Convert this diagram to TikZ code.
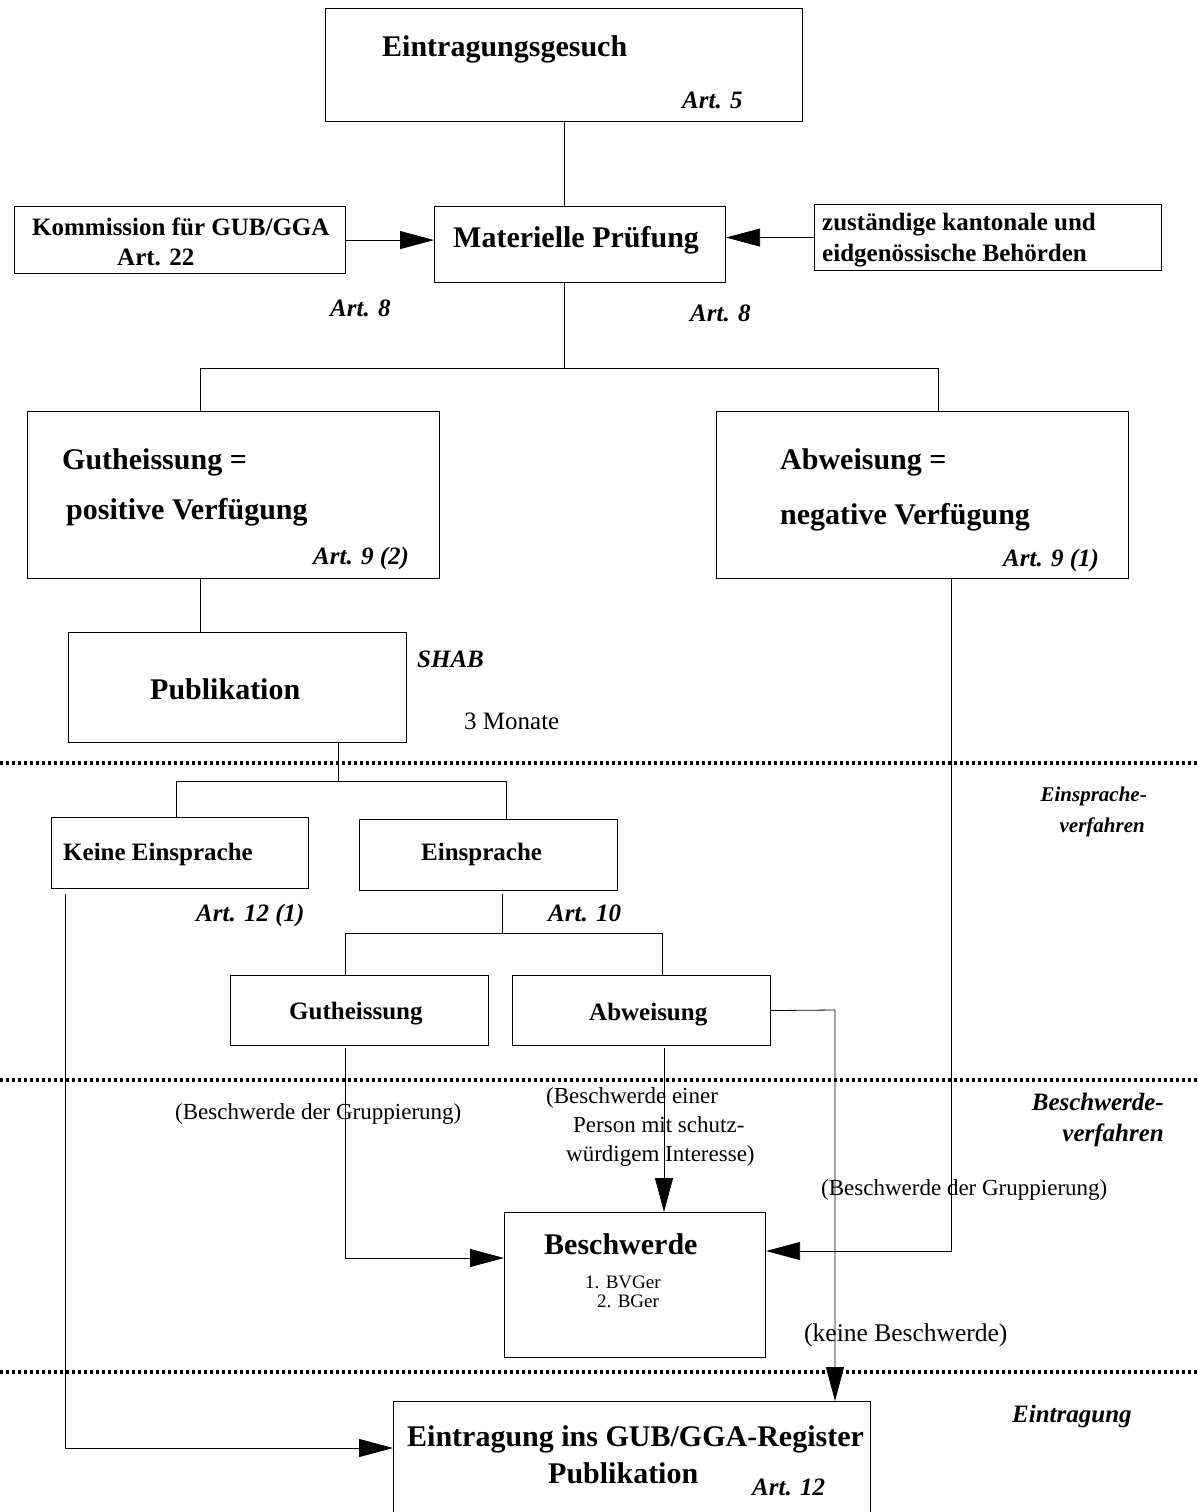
\documentclass[tikz,border=0pt]{standalone}
\usepackage{fontspec}
\setmainfont{Liberation Serif}
\usetikzlibrary{arrows.meta}
\begin{document}
\begin{tikzpicture}[x=1pt,y=-1pt,
  box/.style={draw, line width=1.1pt, inner sep=0pt, anchor=north west},
  big/.style={font=\fontsize{30}{36}\selectfont\bfseries, inner sep=0pt, anchor=base west},
  sb/.style={font=\fontsize{25}{30}\selectfont\bfseries, inner sep=0pt, anchor=base west},
  art/.style={font=\fontsize{25}{30}\selectfont\bfseries\itshape, inner sep=0pt, anchor=base west},
  artsm/.style={font=\fontsize{21}{25}\selectfont\bfseries\itshape, inner sep=0pt, anchor=base east},
  lab/.style={font=\fontsize{23}{28}\selectfont, inner sep=0pt, anchor=base west},
  tiny/.style={font=\fontsize{19}{22}\selectfont, inner sep=0pt, anchor=base west},
  con/.style={line width=0.8pt},
  arr/.style={con, -{Triangle[length=34pt,width=18pt]}},
  sep/.style={line width=4pt, dash pattern=on 3pt off 3pt}]
\clip (0,0) rectangle (1198,1512);
\fill[white] (0,0) rectangle (1198,1512);

% separators
\coordinate (d1l) at (0,763);  \coordinate (d1r) at (1198,763);
\coordinate (d2l) at (0,1080); \coordinate (d2r) at (1198,1080);
\coordinate (d3l) at (0,1372); \coordinate (d3r) at (1198,1372);
\draw[sep] (d1l) -- (d1r);
\draw[sep] (d2l) -- (d2r);
\draw[sep] (d3l) -- (d3r);

% boxes
\node[box, minimum width=477pt, minimum height=113pt] (gesuch) at (325,8) {};
\node[box, minimum width=291pt, minimum height=76pt] (mat) at (434,206) {};
\node[box, minimum width=331pt, minimum height=67pt] (kom) at (14,206) {};
\node[box, minimum width=347pt, minimum height=66pt] (beh) at (814,204) {};
\node[box, minimum width=412pt, minimum height=167pt] (gut) at (27,411) {};
\node[box, minimum width=412pt, minimum height=167pt] (abw) at (716,411) {};
\node[box, minimum width=338pt, minimum height=110pt] (pub) at (68,632) {};
\node[box, minimum width=257pt, minimum height=71pt] (keine) at (51,817) {};
\node[box, minimum width=258pt, minimum height=71pt] (einspr) at (359,819) {};
\node[box, minimum width=258pt, minimum height=70pt] (gut2) at (230,975) {};
\node[box, minimum width=258pt, minimum height=70pt] (abw2) at (512,975) {};
\node[box, minimum width=261pt, minimum height=145pt] (besch) at (504,1212) {};
\node[box, minimum width=477pt, minimum height=140pt] (reg) at (393,1401) {};

% connectors
\coordinate (m1) at (564,368);
\draw[con] (gesuch.south -| m1) -- (mat.north -| m1);
\draw[arr] (kom.east) -- (kom.east -| mat.west);
\draw[arr] (beh.west) -- (beh.west -| mat.east);
\draw[con] (mat.south -| m1) -- (m1);
\coordinate (gl) at (200,368);
\coordinate (ar) at (938,368);
\draw[con] (gl |- gut.north) -- (gl) -- (ar) -- (ar |- abw.north);
\draw[con] (gl |- gut.south) -- (gl |- pub.north);
\coordinate (p1) at (338,781);
\coordinate (kl) at (176,781);
\coordinate (er) at (506,781);
\draw[con] (p1 |- pub.south) -- (p1);
\draw[con] (kl |- keine.north) -- (kl) -- (er) -- (er |- einspr.north);
\coordinate (k0) at (65,894);
\coordinate (k1) at (65,1448);
\draw[arr] (k0) -- (k1) -- (k1 -| reg.west);
\coordinate (e0) at (502,894);
\coordinate (e1) at (502,933);
\coordinate (gl2) at (345,933);
\coordinate (ar2) at (662,933);
\draw[con] (e0) -- (e1);
\draw[con] (gl2 |- gut2.north) -- (gl2) -- (ar2) -- (ar2 |- abw2.north);
\coordinate (g0) at (345,1048);
\coordinate (g1) at (345,1258);
\draw[arr] (g0) -- (g1) -- (g1 -| besch.west);
\coordinate (a0) at (664,1048);
\draw[arr] (a0) -- (a0 |- besch.north);
\coordinate (a1) at (835,1010);
\draw[arr] (abw2.east) -- (a1) -- (a1 |- reg.north);
\coordinate (b0) at (951,1251);
\draw[arr] (b0 |- abw.south) -- (b0) -- (b0 -| besch.east);

% texts
\node[big] (t1) at (382,57) {Eintragungsgesuch};
\node[art] (t2) at (682,108) {Art. 5};
\node[big] (t3) at (453,247) {Materielle Prüfung};
\node[sb] (t4) at (32,235) {Kommission für GUB/GGA};
\node[sb] (t5) at (117,265) {Art. 22};
\node[sb] (t6) at (822,230) {zuständige kantonale und};
\node[sb] (t7) at (822,261) {eidgenössische Behörden};
\node[art] (t8) at (330,316) {Art. 8};
\node[art] (t9) at (690,321) {Art. 8};
\node[big] (t10) at (62,469) {Gutheissung =};
\node[big] (t11) at (66,519) {positive Verfügung};
\node[art] (t12) at (313,564) {Art. 9 (2)};
\node[big] (t13) at (780,469) {Abweisung =};
\node[big] (t14) at (780,524) {negative Verfügung};
\node[art] (t15) at (1003,566) {Art. 9 (1)};
\node[big] (t16) at (150,699) {Publikation};
\node[art] (t17) at (417,667) {SHAB};
\node[lab, font=\fontsize{25}{30}\selectfont] (t18) at (464,729) {3 Monate};
\node[sb] (t19) at (63,860) {Keine Einsprache};
\node[sb] (t20) at (421,860) {Einsprache};
\node[art] (t21) at (196,921) {Art. 12 (1)};
\node[art] (t22) at (548,921) {Art. 10};
\node[artsm] (t23) at (1147,801) {Einsprache-};
\node[artsm] (t24) at (1145,832) {verfahren};
\node[sb] (t25) at (289,1019) {Gutheissung};
\node[sb] (t26) at (589,1020) {Abweisung};
\node[lab] (t27) at (175,1119) {(Beschwerde der Gruppierung)};
\node[lab] (t28) at (546,1103) {(Beschwerde einer};
\node[lab] (t29) at (573,1132) {Person mit schutz-};
\node[lab] (t30) at (566,1161) {würdigem Interesse)};
\node[lab] (t31) at (821,1195) {(Beschwerde der Gruppierung)};
\node[art, anchor=base east] (t32) at (1164,1110) {Beschwerde-};
\node[art, anchor=base east] (t33) at (1164,1141) {verfahren};
\node[big] (t34) at (544,1254) {Beschwerde};
\node[tiny] (t35) at (585,1288) {1. BVGer};
\node[tiny] (t36) at (597,1307) {2. BGer};
\node[lab, font=\fontsize{25.5}{30}\selectfont] (t37) at (804,1341) {(keine Beschwerde)};
\node[big] (t38) at (407,1446) {Eintragung ins GUB/GGA-Register};
\node[big] (t39) at (548,1483) {Publikation};
\node[art] (t40) at (752,1495) {Art. 12};
\node[art] (t41) at (1012,1422) {Eintragung};
\end{tikzpicture}
\end{document}
